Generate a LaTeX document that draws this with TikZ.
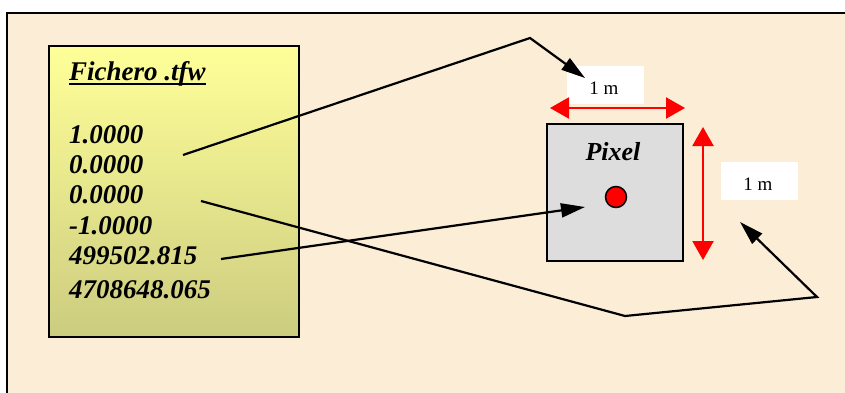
\documentclass[tikz,border=0pt]{standalone}
\usepackage{fontspec}
\setmainfont{Liberation Serif}
\usetikzlibrary{arrows.meta}

\definecolor{parchment}{RGB}{251,237,214}
\definecolor{tfwtop}{RGB}{255,255,153}
\definecolor{tfwbottom}{RGB}{204,204,128}
\definecolor{pixelgray}{RGB}{221,221,221}

\tikzset{
  tfwbox/.style={draw=black, line width=1.8pt, top color=tfwtop, bottom color=tfwbottom,
    minimum width=250pt, minimum height=291pt, inner sep=0pt},
  tfwtext/.style={anchor=base west, inner sep=0pt,
    font=\fontsize{27}{30}\selectfont\bfseries\itshape},
  pixelbox/.style={draw=black, line width=1.8pt, fill=pixelgray,
    minimum width=136pt, minimum height=137pt, inner sep=0pt},
  centre/.style={circle, draw=black, line width=1.5pt, fill=red, minimum size=21pt, inner sep=0pt},
  labelbox/.style={fill=white, minimum width=77pt, minimum height=38pt, inner sep=0pt},
  labeltext/.style={anchor=base, inner sep=0pt, font=\fontsize{19}{22}\selectfont},
  conn/.style={draw=black, line width=2.2pt, line join=miter,
    -{Triangle[length=24pt,width=14pt]}},
  measure/.style={draw=red, line width=2.2pt,
    {Triangle[length=19pt,width=21pt]}-{Triangle[length=19pt,width=21pt]}}
}

\begin{document}
\begin{tikzpicture}[x=1pt, y=-1pt]
  \useasboundingbox (0,0) rectangle (845,393);
  % page and framed parchment panel
  \fill[white] (0,0) rectangle (845,393);
  \fill[parchment] (7,13) rectangle (845,393);
  \draw[line width=2.2pt] (7,393) -- (7,13) -- (845,13);

  % world file contents
  \node[tfwbox] (tfw) at (174,191.5) {};
  \node[tfwtext] (title) at (69,81) {Fichero .tfw};
  \draw[line width=1.8pt] ([yshift=-3pt]title.base west) -- ([yshift=-3pt]title.base east);
  \node[tfwtext] (l1) at (69,143) {1.0000};
  \node[tfwtext] (l2) at (69,173) {0.0000};
  \node[tfwtext] (l3) at (69,203) {0.0000};
  \node[tfwtext] (l4) at (69,234) {-1.0000};
  \node[tfwtext] (l5) at (69,264) {499502.815};
  \node[tfwtext] (l6) at (69,298) {4708648.065};

  % the pixel and its centre
  \node[pixelbox] (pixel) at (615,192.5) {};
  \node[tfwtext, anchor=base, font=\fontsize{26}{30}\selectfont\bfseries\itshape] (pixname) at (613,160) {Pixel};
  \node[centre] (dot) at (616,197) {};

  % size labels
  \node[labelbox] (sizex) at (605,85) {};
  \node[labeltext] (sizextext) at (604,95) {1 m};
  \node[labelbox] (sizey) at (759,181) {};
  \node[labeltext] (sizeytext) at (758,190) {1 m};

  % pixel size dimension arrows
  \coordinate (hx0) at (550,108);
  \coordinate (hx1) at (685,108);
  \coordinate (vy0) at (703,127);
  \coordinate (vy1) at (703,260);
  \draw[measure] (hx0) -- (hx1);
  \draw[measure] (vy0) -- (vy1);

  % connectors from the file values
  \coordinate (s1) at (183,155);
  \coordinate (s2) at (201,201);
  \coordinate (s3) at (221,259);
  \coordinate (t1) at (585,78);
  \coordinate (t2) at (740,222);
  \coordinate (t3) at (585,207);
  \draw[conn] (s1) -- (530,38) -- (t1);
  \draw[conn] (s2) -- (625,316) -- (817,297) -- (t2);
  \draw[conn] (s3) -- (t3);
\end{tikzpicture}
\end{document}
